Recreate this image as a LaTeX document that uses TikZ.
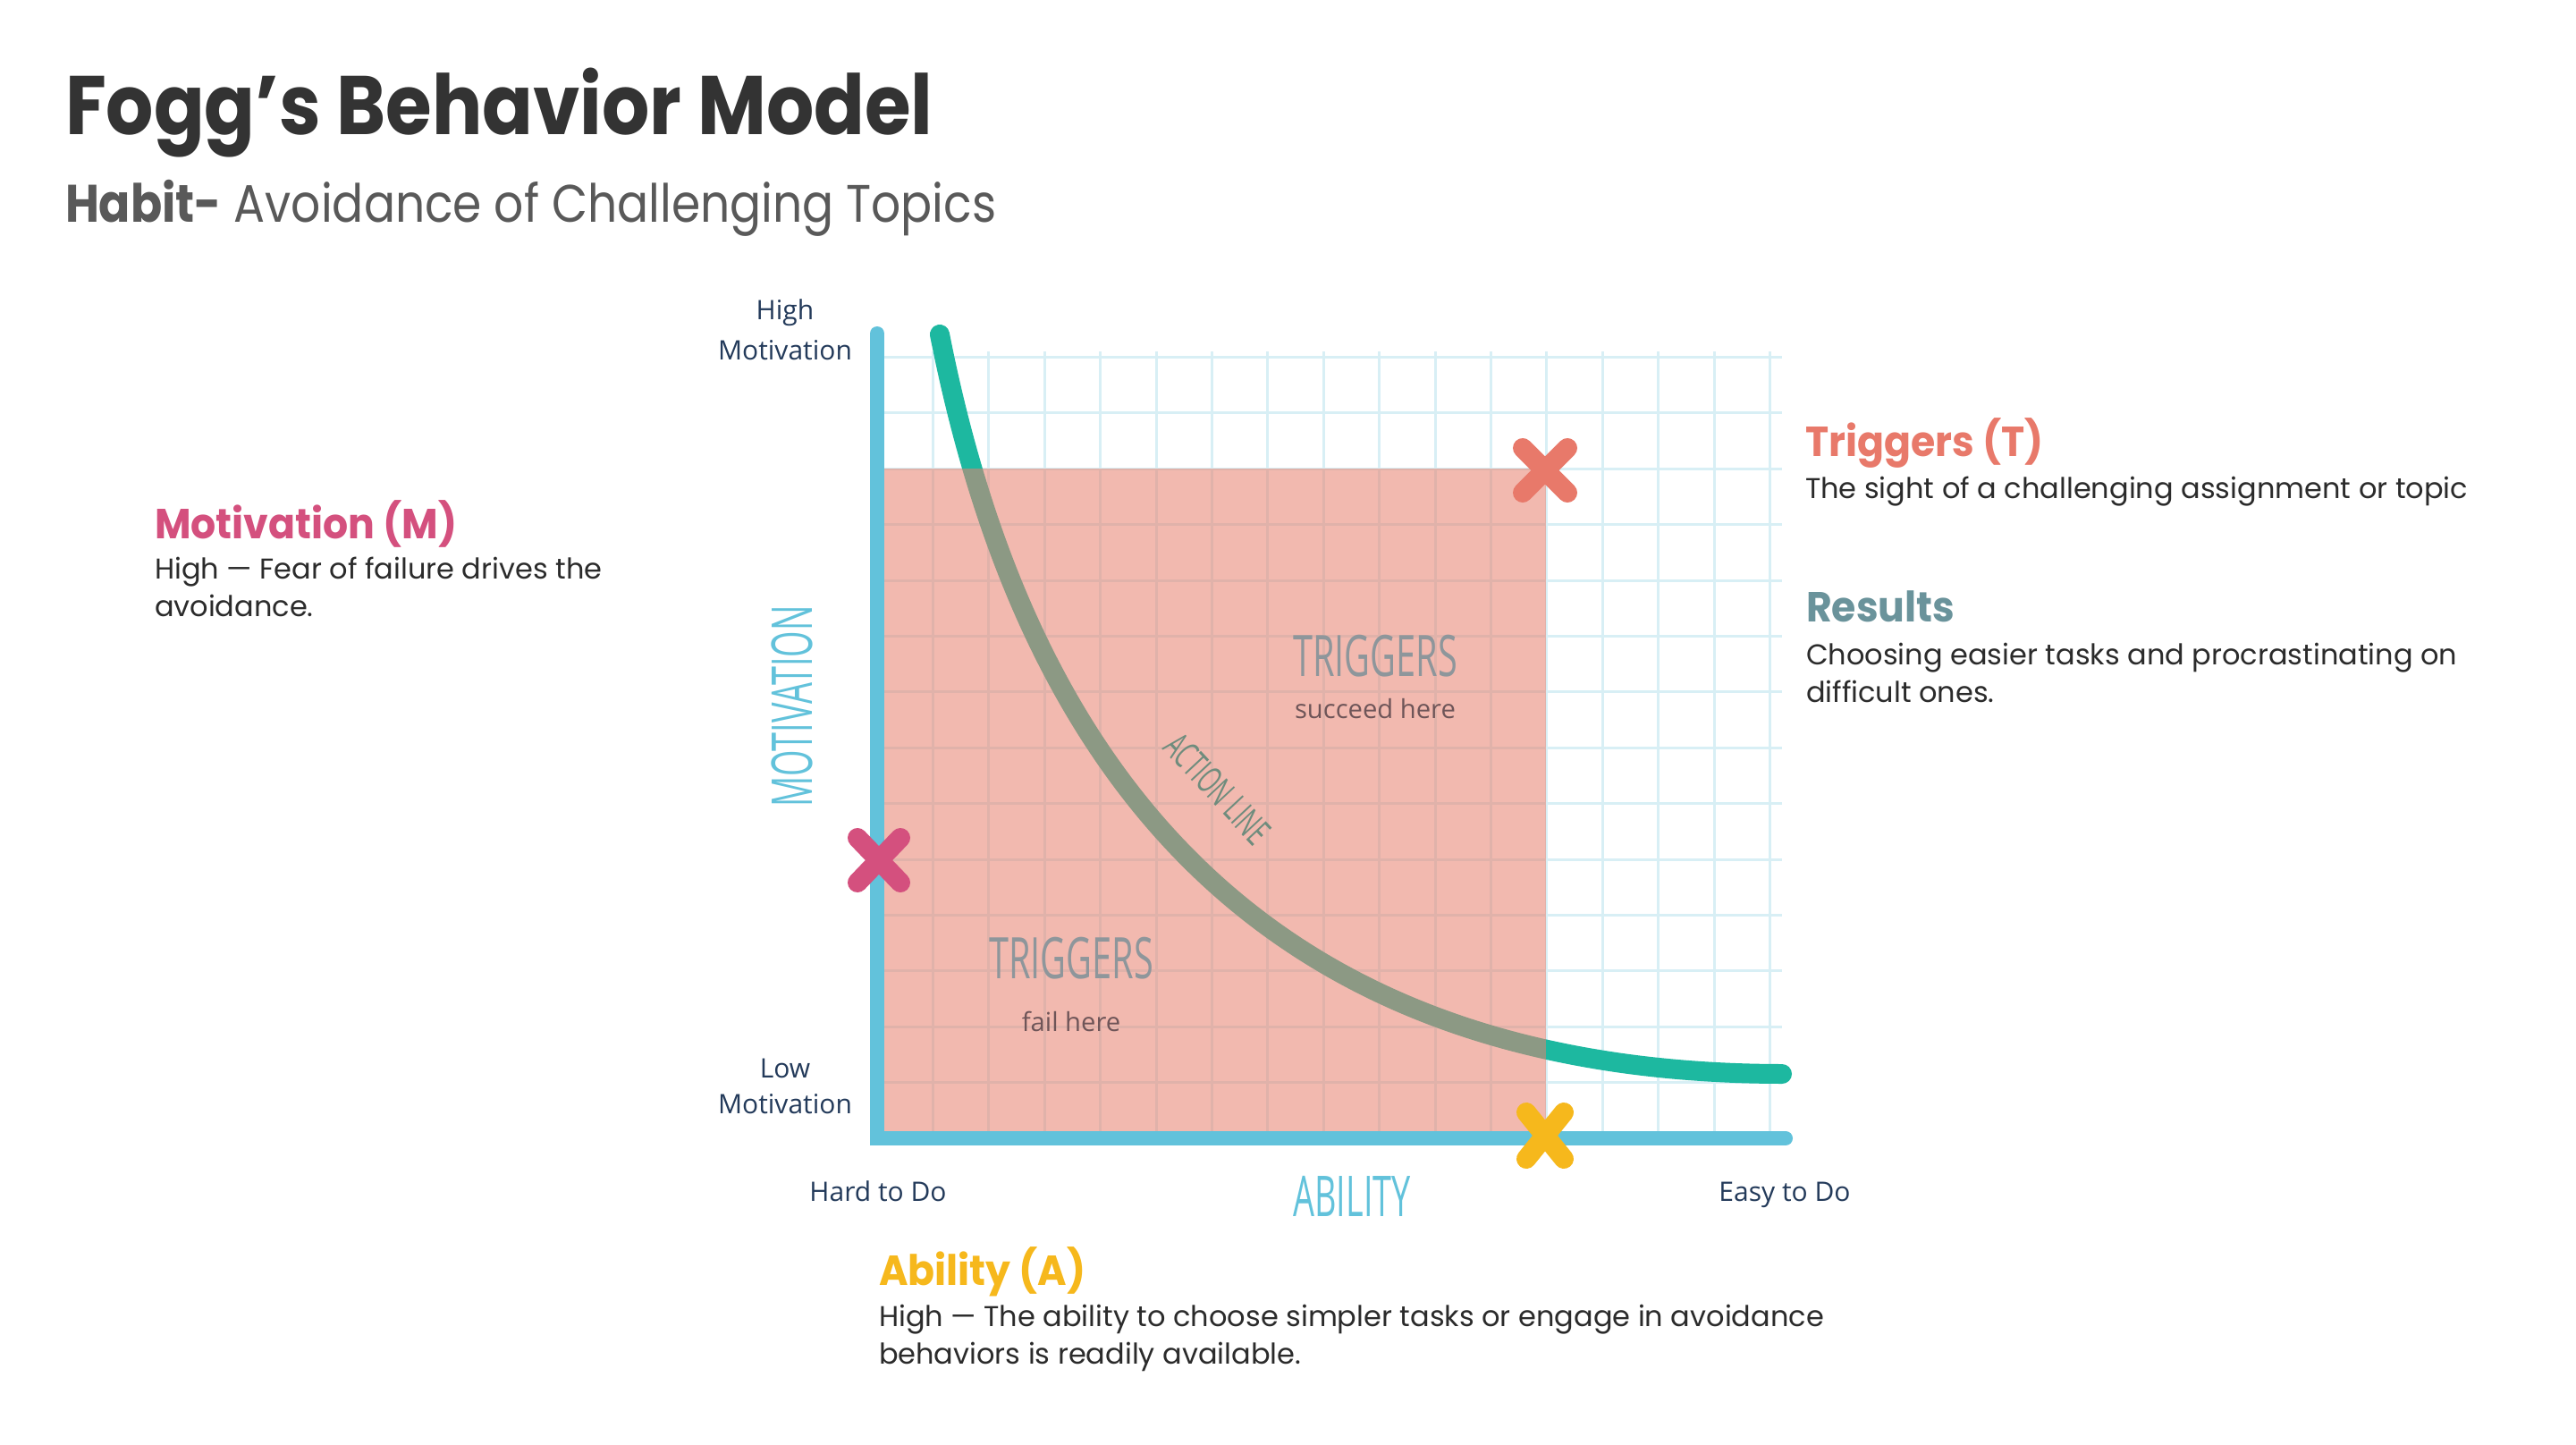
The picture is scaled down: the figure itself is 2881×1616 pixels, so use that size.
\documentclass[tikz,border=0pt]{standalone}
\usepackage{fontspec}
\setmainfont{Poppins}
\newfontfamily\titlef[FakeStretch=0.9]{Poppins}
\newfontfamily\subf[FakeStretch=0.88]{Poppins}
\newfontfamily\headf[FakeStretch=0.94]{Poppins}
\newfontfamily\bodyf{Poppins}
\newfontfamily\osans{Open Sans}
\newfontfamily\ocond[FakeStretch=0.6]{Open Sans}
\newfontfamily\otrig[FakeStretch=0.62]{Open Sans}
\definecolor{titlegray}{HTML}{333333}
\definecolor{subgray}{HTML}{595959}
\definecolor{bodyblack}{HTML}{2B2B2B}
\definecolor{motpink}{HTML}{D4507E}
\definecolor{trigsalmon}{HTML}{E8796A}
\definecolor{resteal}{HTML}{6A939B}
\definecolor{ablyellow}{HTML}{F6B81C}
\definecolor{axisblue}{HTML}{62C2DB}
\definecolor{gridblue}{HTML}{D8EFF5}
\definecolor{curveteal}{HTML}{1DB8A0}
\definecolor{rectsalmon}{HTML}{E8806E}
\definecolor{labelnavy}{HTML}{233A5A}
\definecolor{trigtext}{HTML}{8E969B}
\definecolor{herebrown}{HTML}{6E5558}
\definecolor{actiontext}{HTML}{6F8C7D}
\tikzset{
  txt/.style={inner sep=0pt, outer sep=0pt},
  heading/.style={txt, anchor=base west, font=\headf\bfseries\fontsize{23.5}{28}\selectfont},
  bodyline/.style={txt, anchor=base west, text=bodyblack, font=\bodyf\fontsize{16}{19}\selectfont},
  axlabel/.style={txt, anchor=base, text=labelnavy, font=\osans\fontsize{15}{18}\selectfont},
  biglabel/.style={txt, text=axisblue, font=\ocond\fontsize{31.5}{36}\selectfont},
  trig/.style={txt, anchor=base, text=trigtext, font=\otrig\fontsize{32}{36}\selectfont},
  here/.style={txt, anchor=base, text=herebrown, font=\osans\fontsize{14.6}{18}\selectfont},
  gridline/.style={draw=gridblue, line width=1.5},
  axisline/.style={draw=axisblue, line width=8, line cap=round},
  curveline/.style={draw=curveteal, line width=11, line cap=round},
  xmark/.style={line width=11, line cap=round},
}
\begin{document}
\begin{tikzpicture}[x=0.5pt, y=-0.5pt]
\useasboundingbox[fill=white] (0,0) rectangle (2881,1616);

% grid
\foreach \k in {1,...,16} {
  \draw[gridline] ({981+62.4*\k},393) -- ({981+62.4*\k},1273);
}
\foreach \k in {1,...,14} {
  \draw[gridline] (981,{1273-62.4*\k}) -- (1993,{1273-62.4*\k});
}

% action line curve
\coordinate (cstart) at (1051,374);
\coordinate (cend) at (1993,1201);
\draw[curveline] (cstart) .. controls (1145,850) and (1400,1200) .. (cend);

% triggers-fail area
\fill[rectsalmon, fill opacity=0.55] (983,524) rectangle (1729,1273);

% axes
\coordinate (origin) at (981,1273);
\coordinate (ytop) at (981,373);
\coordinate (xend) at (1997,1273);
\draw[axisline] (ytop) -- (origin) -- (xend);

% marks
\coordinate (mM) at (983,962);
\coordinate (mT) at (1728,526);
\coordinate (mA) at (1728,1270);
\draw[xmark, motpink] ([shift={(-24,-25)}]mM) -- ([shift={(24,25)}]mM)
                      ([shift={(24,-25)}]mM) -- ([shift={(-24,25)}]mM);
\draw[xmark, trigsalmon] ([shift={(-25,-25)}]mT) -- ([shift={(25,25)}]mT)
                      ([shift={(25,-25)}]mT) -- ([shift={(-25,25)}]mT);
\draw[xmark, ablyellow] ([shift={(-21,-26)}]mA) -- ([shift={(21,26)}]mA)
                      ([shift={(21,-26)}]mA) -- ([shift={(-21,26)}]mA);

% title
\node[txt, anchor=base west, text=titlegray, font=\titlef\bfseries\fontsize{46.5}{50}\selectfont] (title) at (73,150) {Fogg’s Behavior Model};
\node[txt, anchor=base west, text=subgray, font=\subf\fontsize{29.5}{34}\selectfont] (subtitle) at (73,248) {\textbf{Habit-} Avoidance of Challenging Topics};

% chart labels
\node[axlabel] (hi1) at (878,357) {High};
\node[axlabel] (hi2) at (878,402) {Motivation};
\node[axlabel] (lo1) at (878,1205) {Low};
\node[axlabel] (lo2) at (878,1245) {Motivation};
\node[axlabel] (hard) at (982,1343) {Hard to Do};
\node[axlabel] (easy) at (1996,1343) {Easy to Do};
\node[biglabel, anchor=base] (ability) at (1512,1360) {ABILITY};
\node[biglabel, rotate=90, anchor=center] (motivation) at (886,790) {MOTIVATION};
\node[trig] (trigup) at (1538,756) {TRIGGERS};
\node[here] (succeed) at (1538,803) {succeed here};
\node[trig] (triglo) at (1198,1094) {TRIGGERS};
\node[here] (fail) at (1198,1153) {fail here};
\node[txt, rotate=-47, text=actiontext, font=\ocond\fontsize{21}{24}\selectfont] (action) at (1362,882) {ACTION LINE};

% side texts
\node[heading, text=motpink] (mhead) at (173,602) {Motivation (M)};
\node[bodyline] (mb1) at (173,647) {High — Fear of failure drives the};
\node[bodyline] (mb2) at (173,689) {avoidance.};

\node[heading, text=trigsalmon] (thead) at (2019,510) {Triggers (T)};
\node[bodyline] (tb1) at (2019,557) {The sight of a challenging assignment or topic};

\node[heading, text=resteal] (rhead) at (2020,695) {Results};
\node[bodyline] (rb1) at (2020,743) {Choosing easier tasks and procrastinating on};
\node[bodyline] (rb2) at (2020,785) {difficult ones.};

\node[heading, text=ablyellow] (ahead) at (983,1437) {Ability (A)};
\node[bodyline] (ab1) at (983,1483) {High — The ability to choose simpler tasks or engage in avoidance};
\node[bodyline] (ab2) at (983,1525) {behaviors is readily available.};
\end{tikzpicture}
\end{document}
